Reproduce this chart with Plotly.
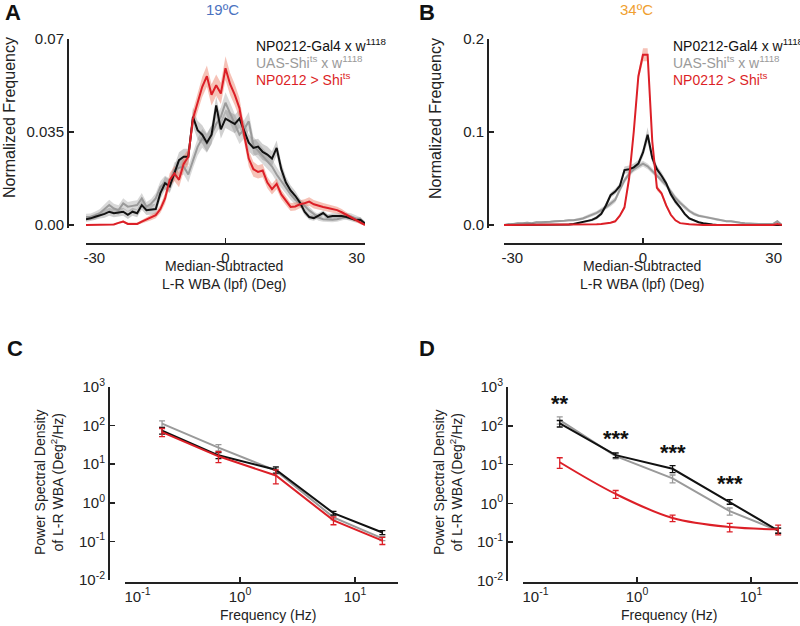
import math
import plotly.graph_objects as go

# ---------------- data ----------------
deg = list(range(-30, 31))

# Panel A (19 C)
black_A = [0.0022, 0.0025, 0.0031, 0.0036, 0.0042, 0.0050, 0.0044, 0.0047, 0.0050, 0.0038,
           0.0050, 0.0044, 0.0075, 0.0056, 0.0058, 0.0060, 0.0120, 0.0157, 0.0145, 0.0194,
           0.0244, 0.0257, 0.0257, 0.0407, 0.0357, 0.0340, 0.0310, 0.0340, 0.0450, 0.0360,
           0.0400, 0.0390, 0.0380, 0.0400, 0.0357, 0.0310, 0.0290, 0.0295, 0.0275, 0.0265,
           0.0250, 0.0290, 0.0210, 0.0160, 0.0130, 0.0110, 0.0085, 0.0050, 0.0030, 0.0026,
           0.0035, 0.0045, 0.0030, 0.0034, 0.0034, 0.0034, 0.0030, 0.0025, 0.0019, 0.0020,
           0.0005]
gray_A = [0.0030, 0.0031, 0.0036, 0.0045, 0.0060, 0.0075, 0.0062, 0.0056, 0.0081, 0.0069,
          0.0072, 0.0075, 0.0100, 0.0069, 0.0080, 0.0100, 0.0144, 0.0160, 0.0150, 0.0207,
          0.0215, 0.0220, 0.0190, 0.0244, 0.0294, 0.0326, 0.0307, 0.0340, 0.0380, 0.0407,
          0.0460, 0.0420, 0.0380, 0.0340, 0.0360, 0.0390, 0.0300, 0.0280, 0.0260, 0.0240,
          0.0220, 0.0190, 0.0165, 0.0140, 0.0115, 0.0095, 0.0082, 0.0072, 0.0055, 0.0040,
          0.0028, 0.0022, 0.0020, 0.0020, 0.0022, 0.0026, 0.0034, 0.0032, 0.0025, 0.0019,
          0.0005]
red_A = [0.0000, 0.0000, 0.0000, 0.0000, 0.0000, 0.0000, 0.0002, 0.0008, 0.0013, 0.0004,
         0.0004, 0.0004, 0.0013, 0.0020, 0.0028, 0.0037, 0.0060, 0.0100, 0.0170, 0.0194,
         0.0170, 0.0230, 0.0257, 0.0400, 0.0460, 0.0520, 0.0560, 0.0490, 0.0526, 0.0495,
         0.0590, 0.0530, 0.0490, 0.0440, 0.0340, 0.0250, 0.0210, 0.0200, 0.0205, 0.0160,
         0.0135, 0.0155, 0.0115, 0.0090, 0.0068, 0.0070, 0.0078, 0.0082, 0.0088, 0.0078,
         0.0072, 0.0068, 0.0064, 0.0060, 0.0056, 0.0048, 0.0038, 0.0030, 0.0018, 0.0008,
         0.0000]
black_A_sem = [0.0010, 0.0010, 0.0012, 0.0012, 0.0015, 0.0015, 0.0015, 0.0015, 0.0015, 0.0015,
               0.0015, 0.0015, 0.0018, 0.0018, 0.0018, 0.0020, 0.0022, 0.0025, 0.0025, 0.0028,
               0.0030, 0.0030, 0.0030, 0.0035, 0.0035, 0.0035, 0.0035, 0.0035, 0.0035, 0.0035,
               0.0035, 0.0035, 0.0035, 0.0035, 0.0035, 0.0032, 0.0030, 0.0030, 0.0030, 0.0030,
               0.0028, 0.0028, 0.0025, 0.0022, 0.0020, 0.0018, 0.0015, 0.0012, 0.0010, 0.0010,
               0.0010, 0.0010, 0.0010, 0.0010, 0.0010, 0.0010, 0.0010, 0.0010, 0.0010, 0.0010,
               0.0008]
gray_A_sem = [0.0012, 0.0012, 0.0015, 0.0015, 0.0018, 0.0020, 0.0018, 0.0018, 0.0020, 0.0018,
              0.0018, 0.0018, 0.0020, 0.0018, 0.0018, 0.0020, 0.0022, 0.0025, 0.0025, 0.0028,
              0.0030, 0.0030, 0.0030, 0.0030, 0.0032, 0.0035, 0.0035, 0.0035, 0.0035, 0.0035,
              0.0040, 0.0040, 0.0038, 0.0035, 0.0035, 0.0035, 0.0032, 0.0030, 0.0030, 0.0030,
              0.0028, 0.0028, 0.0025, 0.0022, 0.0020, 0.0018, 0.0016, 0.0015, 0.0014, 0.0012,
              0.0012, 0.0010, 0.0010, 0.0010, 0.0010, 0.0010, 0.0012, 0.0012, 0.0010, 0.0010,
              0.0008]
red_A_sem = [0.0003, 0.0003, 0.0003, 0.0003, 0.0003, 0.0003, 0.0004, 0.0005, 0.0005, 0.0005,
             0.0005, 0.0005, 0.0006, 0.0008, 0.0010, 0.0012, 0.0015, 0.0020, 0.0025, 0.0028,
             0.0028, 0.0030, 0.0030, 0.0032, 0.0035, 0.0038, 0.0040, 0.0040, 0.0040, 0.0040,
             0.0045, 0.0042, 0.0040, 0.0038, 0.0035, 0.0030, 0.0028, 0.0025, 0.0025, 0.0022,
             0.0020, 0.0020, 0.0018, 0.0016, 0.0015, 0.0015, 0.0015, 0.0015, 0.0016, 0.0016,
             0.0015, 0.0015, 0.0014, 0.0014, 0.0013, 0.0012, 0.0010, 0.0008, 0.0006, 0.0005,
             0.0003]

# Panel B (34 C)
black_B = [0.0, 0.0, 0.0, 0.0, 0.0, 0.0, 0.0, 0.0, 0.0, 0.0,
           0.0, 0.0, 0.0, 0.0, 0.0005, 0.001, 0.002, 0.003, 0.004, 0.0055,
           0.008, 0.012, 0.021, 0.032, 0.036, 0.042, 0.059, 0.060, 0.062, 0.066,
           0.078, 0.097, 0.072, 0.060, 0.053, 0.045, 0.033, 0.025, 0.019, 0.012,
           0.007, 0.005, 0.003, 0.002, 0.001, 0.0005, 0.0, 0.0, 0.0, 0.0,
           0.0, 0.0, 0.0, 0.0, 0.0, 0.0, 0.0, 0.0, 0.0, 0.0,
           0.0]
gray_B = [0.000, 0.001, 0.001, 0.002, 0.002, 0.0025, 0.002, 0.003, 0.003, 0.003,
          0.0035, 0.004, 0.004, 0.0045, 0.005, 0.005, 0.006, 0.007, 0.009, 0.011,
          0.013, 0.016, 0.019, 0.023, 0.027, 0.038, 0.048, 0.055, 0.060, 0.063,
          0.066, 0.063, 0.058, 0.054, 0.048, 0.043, 0.036, 0.029, 0.024, 0.019,
          0.015, 0.012, 0.010, 0.009, 0.008, 0.007, 0.0055, 0.005, 0.004, 0.004,
          0.003, 0.0025, 0.002, 0.0015, 0.001, 0.001, 0.001, 0.001, 0.001, 0.004,
          0.000]
red_B = [0.0, 0.0, 0.0, 0.0, 0.0, 0.0, 0.0, 0.0, 0.0, 0.0,
         0.0, 0.0, 0.0, 0.0, 0.0, 0.0, 0.0, 0.0, 0.0, 0.0005,
         0.0008, 0.001, 0.0015, 0.0025, 0.004, 0.010, 0.019, 0.050, 0.100, 0.160,
         0.183, 0.183, 0.090, 0.040, 0.034, 0.021, 0.011, 0.005, 0.002, 0.001,
         0.0008, 0.0005, 0.0, 0.0, 0.0, 0.0, 0.0, 0.0, 0.0, 0.0,
         0.0, 0.0, 0.0, 0.0, 0.0, 0.0, 0.0, 0.0, 0.0, 0.001,
         0.0]
black_B_sem = [0.0, 0.0, 0.0, 0.0, 0.0, 0.0, 0.0, 0.0, 0.0, 0.0,
               0.0, 0.0, 0.0, 0.0, 0.0005, 0.0005, 0.001, 0.001, 0.001, 0.0015,
               0.002, 0.002, 0.003, 0.003, 0.003, 0.003, 0.004, 0.004, 0.004, 0.004,
               0.005, 0.008, 0.005, 0.004, 0.004, 0.003, 0.003, 0.003, 0.002, 0.002,
               0.0015, 0.001, 0.001, 0.0005, 0.0005, 0.0005, 0.0, 0.0, 0.0, 0.0,
               0.0, 0.0, 0.0, 0.0, 0.0, 0.0, 0.0, 0.0, 0.0, 0.0,
               0.0]
gray_B_sem = [0.0005, 0.0008, 0.0008, 0.001, 0.001, 0.001, 0.001, 0.001, 0.001, 0.001,
              0.001, 0.001, 0.001, 0.001, 0.0012, 0.0012, 0.0015, 0.0015, 0.002, 0.002,
              0.002, 0.0025, 0.0025, 0.003, 0.003, 0.003, 0.003, 0.003, 0.003, 0.003,
              0.003, 0.003, 0.003, 0.003, 0.003, 0.003, 0.003, 0.003, 0.0025, 0.0025,
              0.002, 0.002, 0.0015, 0.0015, 0.0015, 0.0012, 0.0012, 0.001, 0.001, 0.001,
              0.001, 0.001, 0.0008, 0.0008, 0.0008, 0.0008, 0.0008, 0.0008, 0.0008, 0.0015,
              0.0005]
red_B_sem = [0.0, 0.0, 0.0, 0.0, 0.0, 0.0, 0.0, 0.0, 0.0, 0.0,
             0.0, 0.0, 0.0, 0.0, 0.0, 0.0, 0.0, 0.0, 0.0, 0.0,
             0.0, 0.0, 0.0005, 0.0005, 0.001, 0.001, 0.002, 0.003, 0.004, 0.005,
             0.007, 0.007, 0.004, 0.003, 0.002, 0.002, 0.001, 0.001, 0.0005, 0.0,
             0.0, 0.0, 0.0, 0.0, 0.0, 0.0, 0.0, 0.0, 0.0, 0.0,
             0.0, 0.0, 0.0, 0.0, 0.0, 0.0, 0.0, 0.0, 0.0, 0.0,
             0.0]

# Panels C / D (power spectral density)
freq = [0.21, 0.65, 2.05, 6.5, 17.3]
black_C = [74, 17, 7.2, 0.54, 0.17]
black_C_err = [14, 3, 1.3, 0.06, 0.02]
gray_C = [112, 27, 6.8, 0.42, 0.12]
gray_C_err = [20, 5, 1.2, 0.06, 0.015]
red_C = [68, 16, 5.1, 0.35, 0.105]
red_C_err = [16, 5, 2.0, 0.08, 0.022]

black_D = [115, 17.5, 7.8, 1.1, 0.2]
black_D_err = [22, 2.5, 1.6, 0.15, 0.03]
gray_D = [140, 16.5, 4.4, 0.63, 0.2]
gray_D_err = [30, 2.5, 1.0, 0.13, 0.03]
red_D = [11.5, 1.75, 0.42, 0.245, 0.215]
red_D_err = [3.5, 0.4, 0.08, 0.06, 0.06]
stars_D = ["**", "***", "***", "***"]
stars_D_y = [380, 48, 21, 3.3]

NB = "\u00a0"
xticks_hist = [-30, 0, 30]
xticks_hist_text = [NB * 4 + "-30", "0", "30" + NB * 4]
logticks_x = [0.1, 1, 10]
logticks_x_text = [NB * 6 + "10<sup>-1</sup>", "10<sup>0</sup>", "10<sup>1</sup>"]
logticks_y = [0.01, 0.1, 1, 10, 100, 1000]
logticks_y_text = ["10<sup>-2</sup>", "10<sup>-1</sup>", "10<sup>0</sup>",
                   "10<sup>1</sup>", "10<sup>2</sup>", "10<sup>3</sup>"]

legend_names = ["NP0212-Gal4 x w<sup>1118</sup>", "UAS-Shi<sup>ts</sup> x w<sup>1118</sup>",
                "NP0212 > Shi<sup>ts</sup>"]

# ---------------- style ----------------
W, H = 800, 626
FONT = "Liberation Sans, Arial, Helvetica, sans-serif"
BLACK = "#111111"
GRAY = "#9a9a9a"
RED = "#dc1f27"
BAND = {BLACK: "rgba(120,120,120,0.35)", GRAY: "rgba(160,160,160,0.40)",
        RED: "rgba(235,120,95,0.45)"}
AX = "#222222"


def px(x):
    return x / W


def py(y):
    return 1 - y / H


fig = go.Figure()


def hist_panel(xa, ya, series):
    for vals, sem, col in series:
        up = [v + s for v, s in zip(vals, sem)]
        lo = [max(v - s, 0) for v, s in zip(vals, sem)]
        fig.add_trace(go.Scatter(x=deg + deg[::-1], y=up + lo[::-1], fill="toself",
                                 fillcolor=BAND[col], line=dict(width=0), mode="lines",
                                 hoverinfo="skip", showlegend=False, xaxis=xa, yaxis=ya))
    for vals, sem, col in series:
        fig.add_trace(go.Scatter(x=deg, y=vals, mode="lines", line=dict(color=col, width=2),
                                 showlegend=False, xaxis=xa, yaxis=ya))


def psd_panel(xa, ya, series):
    for vals, err, col, shape in series:
        fig.add_trace(go.Scatter(x=freq, y=vals, mode="lines",
                                 line=dict(color=col, width=2, shape=shape, smoothing=1.0),
                                 error_y=dict(type="data", array=err, visible=True, color=col,
                                              thickness=1.3, width=3),
                                 showlegend=False, xaxis=xa, yaxis=ya))


hist_panel("x", "y", [(gray_A, gray_A_sem, GRAY), (black_A, black_A_sem, BLACK),
                      (red_A, red_A_sem, RED)])
hist_panel("x2", "y2", [(gray_B, gray_B_sem, GRAY), (black_B, black_B_sem, BLACK),
                        (red_B, red_B_sem, RED)])
psd_panel("x3", "y3", [(gray_C, gray_C_err, GRAY, "linear"), (black_C, black_C_err, BLACK, "linear"),
                       (red_C, red_C_err, RED, "linear")])
psd_panel("x4", "y4", [(gray_D, gray_D_err, GRAY, "linear"), (black_D, black_D_err, BLACK, "linear"),
                       (red_D, red_D_err, RED, "spline")])

tickfont = dict(family=FONT, size=15, color="#222")
common = dict(showgrid=False, zeroline=False, showline=True, linecolor=AX, linewidth=1.5,
              ticks="inside", ticklen=5, tickwidth=1.5, tickcolor=AX, tickfont=tickfont,
              anchor="free", fixedrange=True, automargin=False)

A_y0, A_y1 = 225, 39
yrA = [-0.001, 0.07]
padA = 0.001 / 0.07 * (A_y0 - A_y1)
yrB = [-0.003, 0.2]
padB = 0.003 / 0.2 * (A_y0 - A_y1)

fig.update_layout(
    width=W, height=H, margin=dict(l=0, r=0, t=0, b=0, pad=0, autoexpand=False),
    paper_bgcolor="white", plot_bgcolor="white", showlegend=False,
    font=dict(family=FONT, color="#222"),
    xaxis=dict(domain=[px(86), px(365)], range=[-30, 30], tickvals=xticks_hist,
               ticktext=xticks_hist_text, position=py(243), **common),
    yaxis=dict(domain=[py(A_y0 + padA), py(A_y1)], range=yrA, tickvals=[0, 0.035, 0.07],
               ticktext=["0.00", "0.035", "0.07"], position=px(67), **common),
    xaxis2=dict(domain=[px(504), px(782)], range=[-30, 30], tickvals=xticks_hist,
                ticktext=xticks_hist_text, position=py(243), **common),
    yaxis2=dict(domain=[py(A_y0 + padB), py(A_y1)], range=yrB, tickvals=[0, 0.1, 0.2],
                ticktext=["0.0", "0.1", "0.2"], position=px(487), **common),
    xaxis3=dict(type="log", domain=[px(125), px(398)], range=[-1, 1.374], tickvals=logticks_x,
                ticktext=logticks_x_text, position=py(582), **common),
    yaxis3=dict(type="log", domain=[py(580), py(387)], range=[-2, 3], tickvals=logticks_y,
                ticktext=logticks_y_text, position=px(108), **common),
    xaxis4=dict(type="log", domain=[px(523), px(798)], range=[-1, 1.412], tickvals=logticks_x,
                ticktext=logticks_x_text, position=py(582), **common),
    yaxis4=dict(type="log", domain=[py(581), py(387)], range=[-2, 3], tickvals=logticks_y,
                ticktext=logticks_y_text, position=px(506), **common),
)

ann = []


def text(x, y, t, size=14, color="#222", bold=False, angle=0, xanchor="center", align="center"):
    ann.append(dict(x=px(x), y=py(y), xref="paper", yref="paper", text=t, showarrow=False,
                    font=dict(family=FONT, size=size, color=color,
                              weight="bold" if bold else "normal"),
                    textangle=angle, xanchor=xanchor, yanchor="middle", align=align,
                    borderpad=0))


# panel letters
text(13, 13, "A", size=22, color="#111", bold=True)
text(427, 13, "B", size=22, color="#111", bold=True)
text(15, 348, "C", size=22, color="#111", bold=True)
text(427, 348, "D", size=22, color="#111", bold=True)
# temperatures
text(222, 10, "19ºC", size=15, color="#4a72c0")
text(636, 10, "34ºC", size=15, color="#f0a030")
# legends
for lx in (255, 672):
    for (ly, col), name in zip([(45, "#111"), (62, GRAY), (79, RED)], legend_names):
        text(lx, ly, name, size=14, color=col, xanchor="left", align="left")
# axis titles
text(9, 118, "Normalized Frequency", size=16, angle=-90)
text(435, 118, "Normalized Frequency", size=16, angle=-90)
text(224, 275, "Median-Subtracted<br>L-R WBA (lpf) (Deg)", size=14)
text(642, 275, "Median-Subtracted<br>L-R WBA (lpf) (Deg)", size=14)
text(49, 482, "Power Spectral Density<br>of L-R WBA (Deg<sup>2</sup>/Hz)", size=14, angle=-90)
text(448, 482, "Power Spectral Density<br>of L-R WBA (Deg<sup>2</sup>/Hz)", size=14, angle=-90)
text(268, 615, "Frequency (Hz)", size=14)
text(669, 615, "Frequency (Hz)", size=14)

# significance stars in D (log axes: annotation coords are log10 values)
for f, sy, s in zip(freq, stars_D_y, stars_D):
    ann.append(dict(x=math.log10(f), y=math.log10(sy), xref="x4", yref="y4", text=s,
                    showarrow=False, font=dict(family=FONT, size=22, color="#111",
                                               weight="bold"),
                    xanchor="center", yanchor="middle"))

fig.update_layout(annotations=ann)
fig.write_html("out.html", config={"displayModeBar": False, "staticPlot": True},
               post_script="document.body.style.margin='0px';document.body.style.padding='0px';")
